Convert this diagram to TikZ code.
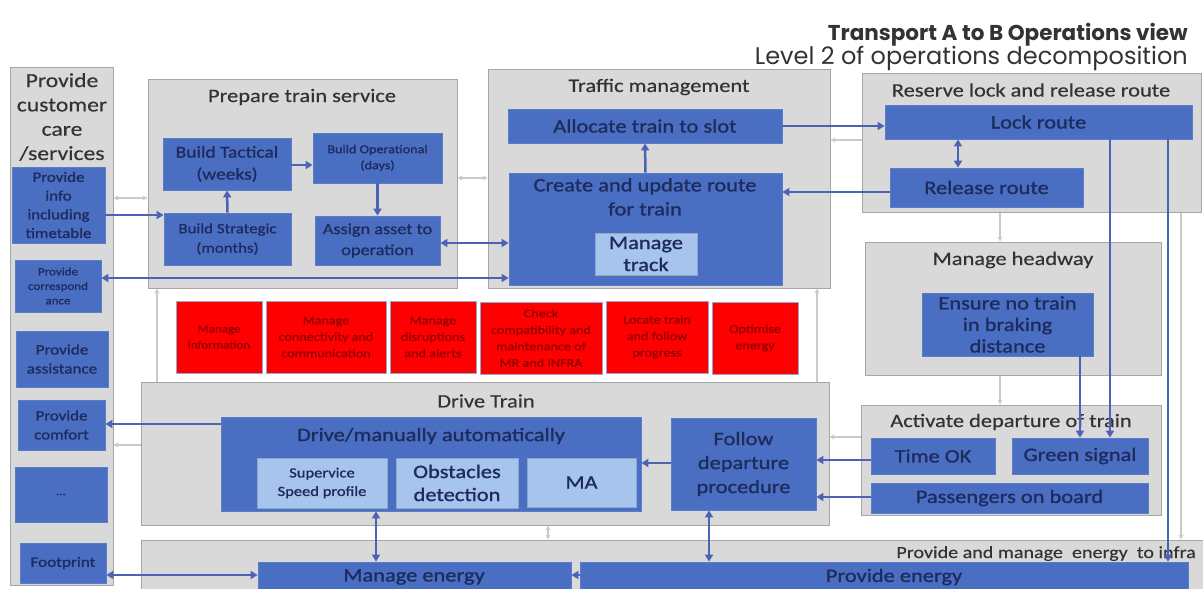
\documentclass[tikz,border=0pt]{standalone}
\usepackage{fontspec}
\setmainfont{Carlito}[FakeStretch=1.18, FakeBold=0.4]
\newfontfamily\boxfont{Carlito}[FakeStretch=1.18, FakeBold=1.2]
\newfontfamily\headfont{Poppins}
\usetikzlibrary{arrows.meta}
\definecolor{boxgray}{HTML}{D9D9D9}
\definecolor{grayline}{HTML}{A6A6A6}
\definecolor{boxblue}{HTML}{4A6FC2}
\definecolor{blueline}{HTML}{5A7DCB}
\definecolor{lightblue}{HTML}{A6C4EC}
\definecolor{navy}{HTML}{1E2B5E}
\definecolor{titlegray}{HTML}{333333}
\definecolor{arrowblue}{HTML}{4C62B4}
\definecolor{faint}{HTML}{CACACA}
\definecolor{redfill}{HTML}{FF0000}
\definecolor{redtext}{HTML}{8E0000}
\definecolor{redline}{HTML}{9AA6CF}
\newcommand\myfs[2]{\fontsize{#1}{#2}\selectfont}
\newcommand\bx[7]{\node[#6, minimum width={#4-#2}, minimum height={#5-#3}] (#1) at ({(#2+#4)/2},{(#3+#5)/2}) {#7};}
\tikzset{
  gbox/.style={draw=grayline, fill=boxgray, line width=1pt, inner sep=0pt},
  bbox/.style={draw=blueline, fill=boxblue, line width=0.8pt, inner sep=0pt, text=navy, align=center},
  lbox/.style={draw=lightblue!85!black, fill=lightblue, line width=0.6pt, inner sep=0pt, text=navy, align=center},
  rbox/.style={draw=redline, fill=redfill, line width=0.6pt, inner sep=0pt, text=redtext, align=center, font=\myfs{12}{16.5}},
  ttl/.style={text=titlegray, inner sep=0pt, font=\myfs{19}{23}},
  btxt/.style={text=navy, inner sep=0pt, align=center},
  arr/.style={draw=arrowblue, line width=2.5pt, -{Triangle[length=7pt,width=8pt]}},
  darr/.style={draw=arrowblue, line width=2.5pt, {Triangle[length=7pt,width=8pt]}-{Triangle[length=7pt,width=8pt]}},
  farr/.style={draw=faint, line width=1.2pt, -{Stealth[length=5pt,width=5pt]}},
  fdarr/.style={draw=faint, line width=1.2pt, {Stealth[length=5pt,width=5pt]}-{Stealth[length=5pt,width=5pt]}},
}
\begin{document}
\begin{tikzpicture}[x=1pt,y=-1pt]
\useasboundingbox (0,0) rectangle (1203,589);
\fill[white] (0,0) rectangle (1203,589);
% helper coordinates
\foreach \v in {126,140,165,178,192,198,215,243,278,424,437,445,460,463,497,575}{\coordinate (Y\v) at (0,\v);}
\foreach \v in {157,376,548,709,817,958,1000,1080,1110,1168,1181}{\coordinate (X\v) at (\v,0);}

% title
\node[anchor=base east, font=\headfont\bfseries\myfs{21.5}{24}, text=titlegray, inner sep=0pt] (t1) at (1188,40) {Transport A to B Operations view};
\node[anchor=base east, font=\headfont\myfs{24}{28}, text=titlegray, inner sep=0pt] (t2) at (1188,64) {Level 2 of operations decomposition};

% left column
\bx{lc}{10}{67}{113}{585}{gbox}{}
\node[ttl, font=\myfs{20}{24.3}, align=center, anchor=north] (lct) at (62,73) {Provide\\customer\\care\\/services};
\bx{info}{12}{167}{105}{243}{bbox,font=\boxfont\myfs{14.3}{18.7}}{Provide\\info\\including\\timetable}
\bx{corr}{15}{260}{101}{312}{bbox,font=\boxfont\myfs{11}{14.5}}{Provide\\correspond\\ance}
\bx{assist}{16}{331}{108}{387}{bbox,font=\boxfont\myfs{14.5}{19}}{Provide\\assistance}
\bx{comfort}{18}{400}{105}{450}{bbox,font=\boxfont\myfs{14.3}{19}}{Provide\\comfort}
\bx{dots}{15}{467}{107}{522}{bbox,font=\boxfont\myfs{11}{14}}{...}
\bx{foot}{20}{543}{106}{583}{bbox,font=\boxfont\myfs{14.5}{19}}{Footprint}

% prepare train service
\bx{prep}{148}{79}{457}{288}{gbox}{}
\node[ttl] (prept) at (302,97) {Prepare train service};
\bx{tact}{163}{138}{291}{190}{bbox,font=\boxfont\myfs{16.5}{22}}{Build Tactical\\(weeks)}
\bx{oper}{313}{133}{442}{183}{bbox,font=\boxfont\myfs{12}{16}}{Build Operational\\(days)}
\bx{strat}{164}{213}{291}{265}{bbox,font=\boxfont\myfs{14.3}{19.5}}{Build Strategic\\(months)}
\bx{assign}{315}{216}{440}{265}{bbox,font=\boxfont\myfs{15.5}{21}}{Assign asset to\\operation}

% traffic management
\bx{traf}{488}{69}{830}{288}{gbox}{}
\node[ttl] (traft) at (659,87) {Traffic management};
\bx{alloc}{508}{109}{782}{143}{bbox,font=\boxfont\myfs{19}{23}}{Allocate train to slot}
\bx{create}{509}{173}{782}{285}{bbox}{}
\node[btxt, font=\boxfont\myfs{19}{24}, anchor=north] (createt) at (645,178) {Create and update route\\for train};
\bx{track}{595}{233}{697}{275}{lbox,font=\boxfont\myfs{19}{22}}{Manage\\track}

% reserve lock and release route
\bx{res}{862}{73}{1201}{212}{gbox}{}
\node[ttl] (rest) at (1031,90) {Reserve lock and release route};
\bx{lock}{885}{105}{1192}{139}{bbox,font=\boxfont\myfs{19}{23}}{Lock route}
\bx{rel}{890}{168}{1083}{207}{bbox,font=\boxfont\myfs{19}{23}}{Release route}

% manage headway
\bx{head}{865}{242}{1161}{375}{gbox}{}
\node[ttl] (headt) at (1013,260) {Manage headway};
\bx{ensure}{922}{293}{1093}{356}{bbox,font=\boxfont\myfs{19}{21.5}}{Ensure no train\\in braking\\distance}

% activate departure
\bx{act}{861}{405}{1161}{515}{gbox}{}
\node[ttl] (actt) at (1011,422) {Activate departure of train};
\bx{timeok}{871}{438}{995}{474}{bbox,font=\boxfont\myfs{19}{23}}{Time OK}
\bx{green}{1012}{438}{1148}{474}{bbox,font=\boxfont\myfs{19}{23}}{Green signal}
\bx{pass}{871}{483}{1148}{513}{bbox,font=\boxfont\myfs{19}{23}}{Passengers on board}

% red functions
\bx{r1}{176}{301}{262}{373}{rbox,font=\myfs{11}{16}}{Manage\\information}
\bx{r2}{266}{301}{386}{373}{rbox}{Manage\\connectivity and\\communication}
\bx{r3}{390}{301}{476}{373}{rbox}{Manage\\disruptions\\and alerts}
\bx{r4}{480}{302}{602}{374}{rbox}{Check\\compatibility and\\maintenance of\\MR and INFRA}
\bx{r5}{606}{301}{708}{373}{rbox}{Locate train\\and follow\\progress}
\bx{r6}{712}{302}{798}{374}{rbox}{Optimise\\energy}

% drive train
\bx{dt}{141}{382}{829}{525}{gbox}{}
\node[ttl, font=\myfs{19}{22}] (dtt) at (486,401) {Drive Train};
\bx{drive}{221}{417}{641}{511}{bbox}{}
\node[btxt, font=\boxfont\myfs{19}{23}] (drivet) at (431,436) {Drive/manually automatically};
\bx{sup}{257}{458}{387}{508}{lbox,font=\boxfont\myfs{14}{18.5}}{Supervice\\Speed profile}
\bx{obs}{396}{458}{518}{508}{lbox,font=\boxfont\myfs{19}{23}}{Obstacles\\detection}
\bx{ma}{527}{458}{636}{507}{lbox,font=\boxfont\myfs{19}{23}}{MA}
\bx{follow}{671}{418}{816}{510}{bbox,font=\boxfont\myfs{19}{24}}{Follow\\departure\\procedure}

% energy
\bx{en}{141}{540}{1203}{596}{gbox}{}
\node[text=titlegray, inner sep=0pt, font=\myfs{17}{20}, anchor=base east] (ent) at (1196,558) {Provide and manage\ \ energy\ \ to infra};
\bx{menergy}{258}{562}{571}{596}{bbox}{}
\node[btxt, font=\boxfont\myfs{19}{23}] (menergyt) at (414,577) {Manage energy};
\bx{penergy}{580}{562}{1188}{596}{bbox}{}
\node[btxt, font=\boxfont\myfs{19}{23}] (penergyt) at (894,577) {Provide energy};

% faint connectors
\draw[fdarr] (lc.east |- Y198) -- (prep.west |- Y198);
\draw[fdarr] (prep.east |- Y178) -- (traf.west |- Y178);
\draw[farr] (res.west |- Y140) -- (traf.east |- Y140);
\draw[farr] (dt.north -| X157) -- (prep.south -| X157);
\draw[farr] (dt.north -| X817) -- (traf.south -| X817);
\draw[farr] (res.south -| X1000) -- (head.north -| X1000);
\draw[farr] (head.south -| X1000) -- (act.north -| X1000);
\draw[farr] (act.west |- Y437) -- (dt.east |- Y437);
\draw[farr] (dt.west |- Y445) -- (lc.east |- Y445);
\draw[fdarr] (dt.south -| X548) -- (en.north -| X548);
\draw[farr] (res.south -| X1181) -- (en.north -| X1181);

% blue connectors
\draw[arr] (info.east |- Y215) -- (strat.west |- Y215);
\draw[darr] (corr.east |- Y278) -- (create.west |- Y278);
\draw[darr] (assign.east |- Y243) -- (create.west |- Y243);
\draw[arr] (strat.north) -- (tact.south);
\draw[arr] (tact.east |- Y165) -- (oper.west |- Y165);
\draw[arr] (oper.south) -- (assign.north);
\draw[arr] (create.north) -- (alloc.south);
\draw[arr] (alloc.east |- Y126) -- (lock.west |- Y126);
\draw[arr] (rel.west |- Y192) -- (create.east |- Y192);
\draw[darr] (lock.south -| X958) -- (rel.north -| X958);
\draw[arr] (lock.south -| X1110) -- (green.north -| X1110);
\draw[arr] (ensure.south -| X1080) -- (green.north -| X1080);
\draw[arr] (lock.south -| X1168) -- (penergy.north -| X1168);
\draw[arr] (timeok.west |- Y460) -- (follow.east |- Y460);
\draw[arr] (pass.west |- Y497) -- (follow.east |- Y497);
\draw[arr] (follow.west |- Y463) -- (drive.east |- Y463);
\draw[arr] (drive.west |- Y424) -- (comfort.east |- Y424);
\draw[darr] (drive.south -| X376) -- (menergy.north -| X376);
\draw[darr] (follow.south -| X709) -- (penergy.north -| X709);
\draw[darr] (foot.east |- Y575) -- (menergy.west |- Y575);
\draw[arr, shorten <=-0.5pt] (penergy.west |- Y575) -- (menergy.east |- Y575);
\end{tikzpicture}
\end{document}
